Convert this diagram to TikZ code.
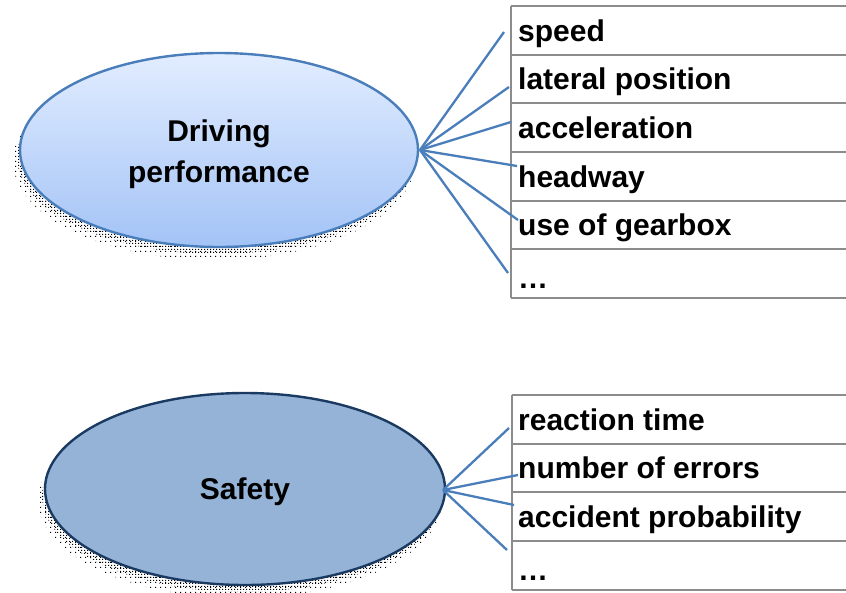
\documentclass[tikz,border=0pt]{standalone}
\usepackage{fontspec}
\setmainfont{Liberation Sans}
\usetikzlibrary{shapes.geometric,patterns.meta}

\definecolor{linkblue}{HTML}{4A7EBB}
\definecolor{topfill}{HTML}{E2EDFF}
\definecolor{botfill}{HTML}{A3C3F6}
\definecolor{safefill}{HTML}{95B3D7}
\definecolor{safeline}{HTML}{1B3A62}
\definecolor{rulegray}{HTML}{8C8C8C}

% coarse dither used for the drop shadows
\tikzdeclarepattern{name=ditherdense, type=uncolored,
  bounding box={(0,0) and (3pt,3pt)}, tile size={(3pt,3pt)},
  code={\fill (0,0) rectangle (1.4pt,1.4pt);}}
\tikzdeclarepattern{name=dithersparse, type=uncolored,
  bounding box={(0,0) and (5pt,5pt)}, tile size={(5pt,5pt)},
  code={\fill (0,0) rectangle (1.4pt,1.4pt);}}

\tikzset{
  bigtext/.style={font=\bfseries\fontsize{30}{41}\selectfont},
  itemtext/.style={font=\bfseries\fontsize{30}{36}\selectfont, anchor=base west, inner sep=0pt},
  topic/.style={ellipse, inner sep=0pt, line width=2.4pt, align=center, bigtext},
  shadowdense/.style={pattern=ditherdense, pattern color=black},
  shadowsparse/.style={pattern=dithersparse, pattern color=black},
  link/.style={draw=linkblue, line width=2.3pt},
  rowline/.style={draw=rulegray, line width=1.8pt},
}

\begin{document}
\begin{tikzpicture}[x=1pt,y=-1pt]
\useasboundingbox (0,0) rectangle (846,592);

% ---------- Driving performance ----------
\fill[shadowsparse] (214,161) ellipse [x radius=201, y radius=99];
\fill[shadowdense] (216,157) ellipse [x radius=199, y radius=97];
\node[topic, minimum width=398pt, minimum height=194pt, draw=linkblue,
      top color=topfill, bottom color=botfill] (dp) at (219,150) {};
\node[bigtext, align=center] (dplabel) at (219,154) {Driving\\performance};

% item table
\foreach \y in {6,54.7,103.3,152,200.7,249.3,298}
  \draw[rowline] (511,\y) -- (846,\y);
\draw[rowline] (511,6) -- (511,298);

\node[itemtext] (speed)   at (518,41)    {speed};
\node[itemtext] (lateral) at (518,89.7)  {lateral position};
\node[itemtext] (accel)   at (518,138.3) {acceleration};
\node[itemtext] (headway) at (518,187)   {headway};
\node[itemtext] (gear)    at (518,235.7) {use of gearbox};
\node[itemtext] (dotsA)   at (518,288)   {\dots};

\coordinate (e1) at (504,32);
\coordinate (e2) at (509,87);
\coordinate (e3) at (511,122);
\coordinate (e4) at (517,166);
\coordinate (e5) at (518,220);
\coordinate (e6) at (508,273);
\coordinate (hubA) at (420,150);
\foreach \e in {e1,e2,e3,e4,e5,e6}
  \draw[link] (hubA) -- (\e);

% ---------- Safety ----------
\fill[shadowsparse] (240,500) ellipse [x radius=202, y radius=98];
\fill[shadowdense] (242,496) ellipse [x radius=200, y radius=96];
\node[topic, minimum width=400pt, minimum height=192pt, draw=safeline,
      fill=safefill] (safety) at (245,489) {};
\node[bigtext] (safetylabel) at (245,492) {Safety};

\foreach \y in {395,443.7,492.3,541,589.7}
  \draw[rowline] (512,\y) -- (846,\y);
\draw[rowline] (512,395) -- (512,589.7);

\node[itemtext] (react)  at (518,430)   {reaction time};
\node[itemtext] (errors) at (518,478.7) {number of errors};
\node[itemtext] (prob)   at (518,527.3) {accident probability};
\node[itemtext] (dotsB)  at (518,580)   {\dots};

\coordinate (f1) at (509,428);
\coordinate (f2) at (518,475);
\coordinate (f3) at (514,505);
\coordinate (f4) at (507,550);
\coordinate (hubB) at (443,490);
\foreach \e in {f1,f2,f3,f4}
  \draw[link] (hubB) -- (\e);
\end{tikzpicture}
\end{document}
